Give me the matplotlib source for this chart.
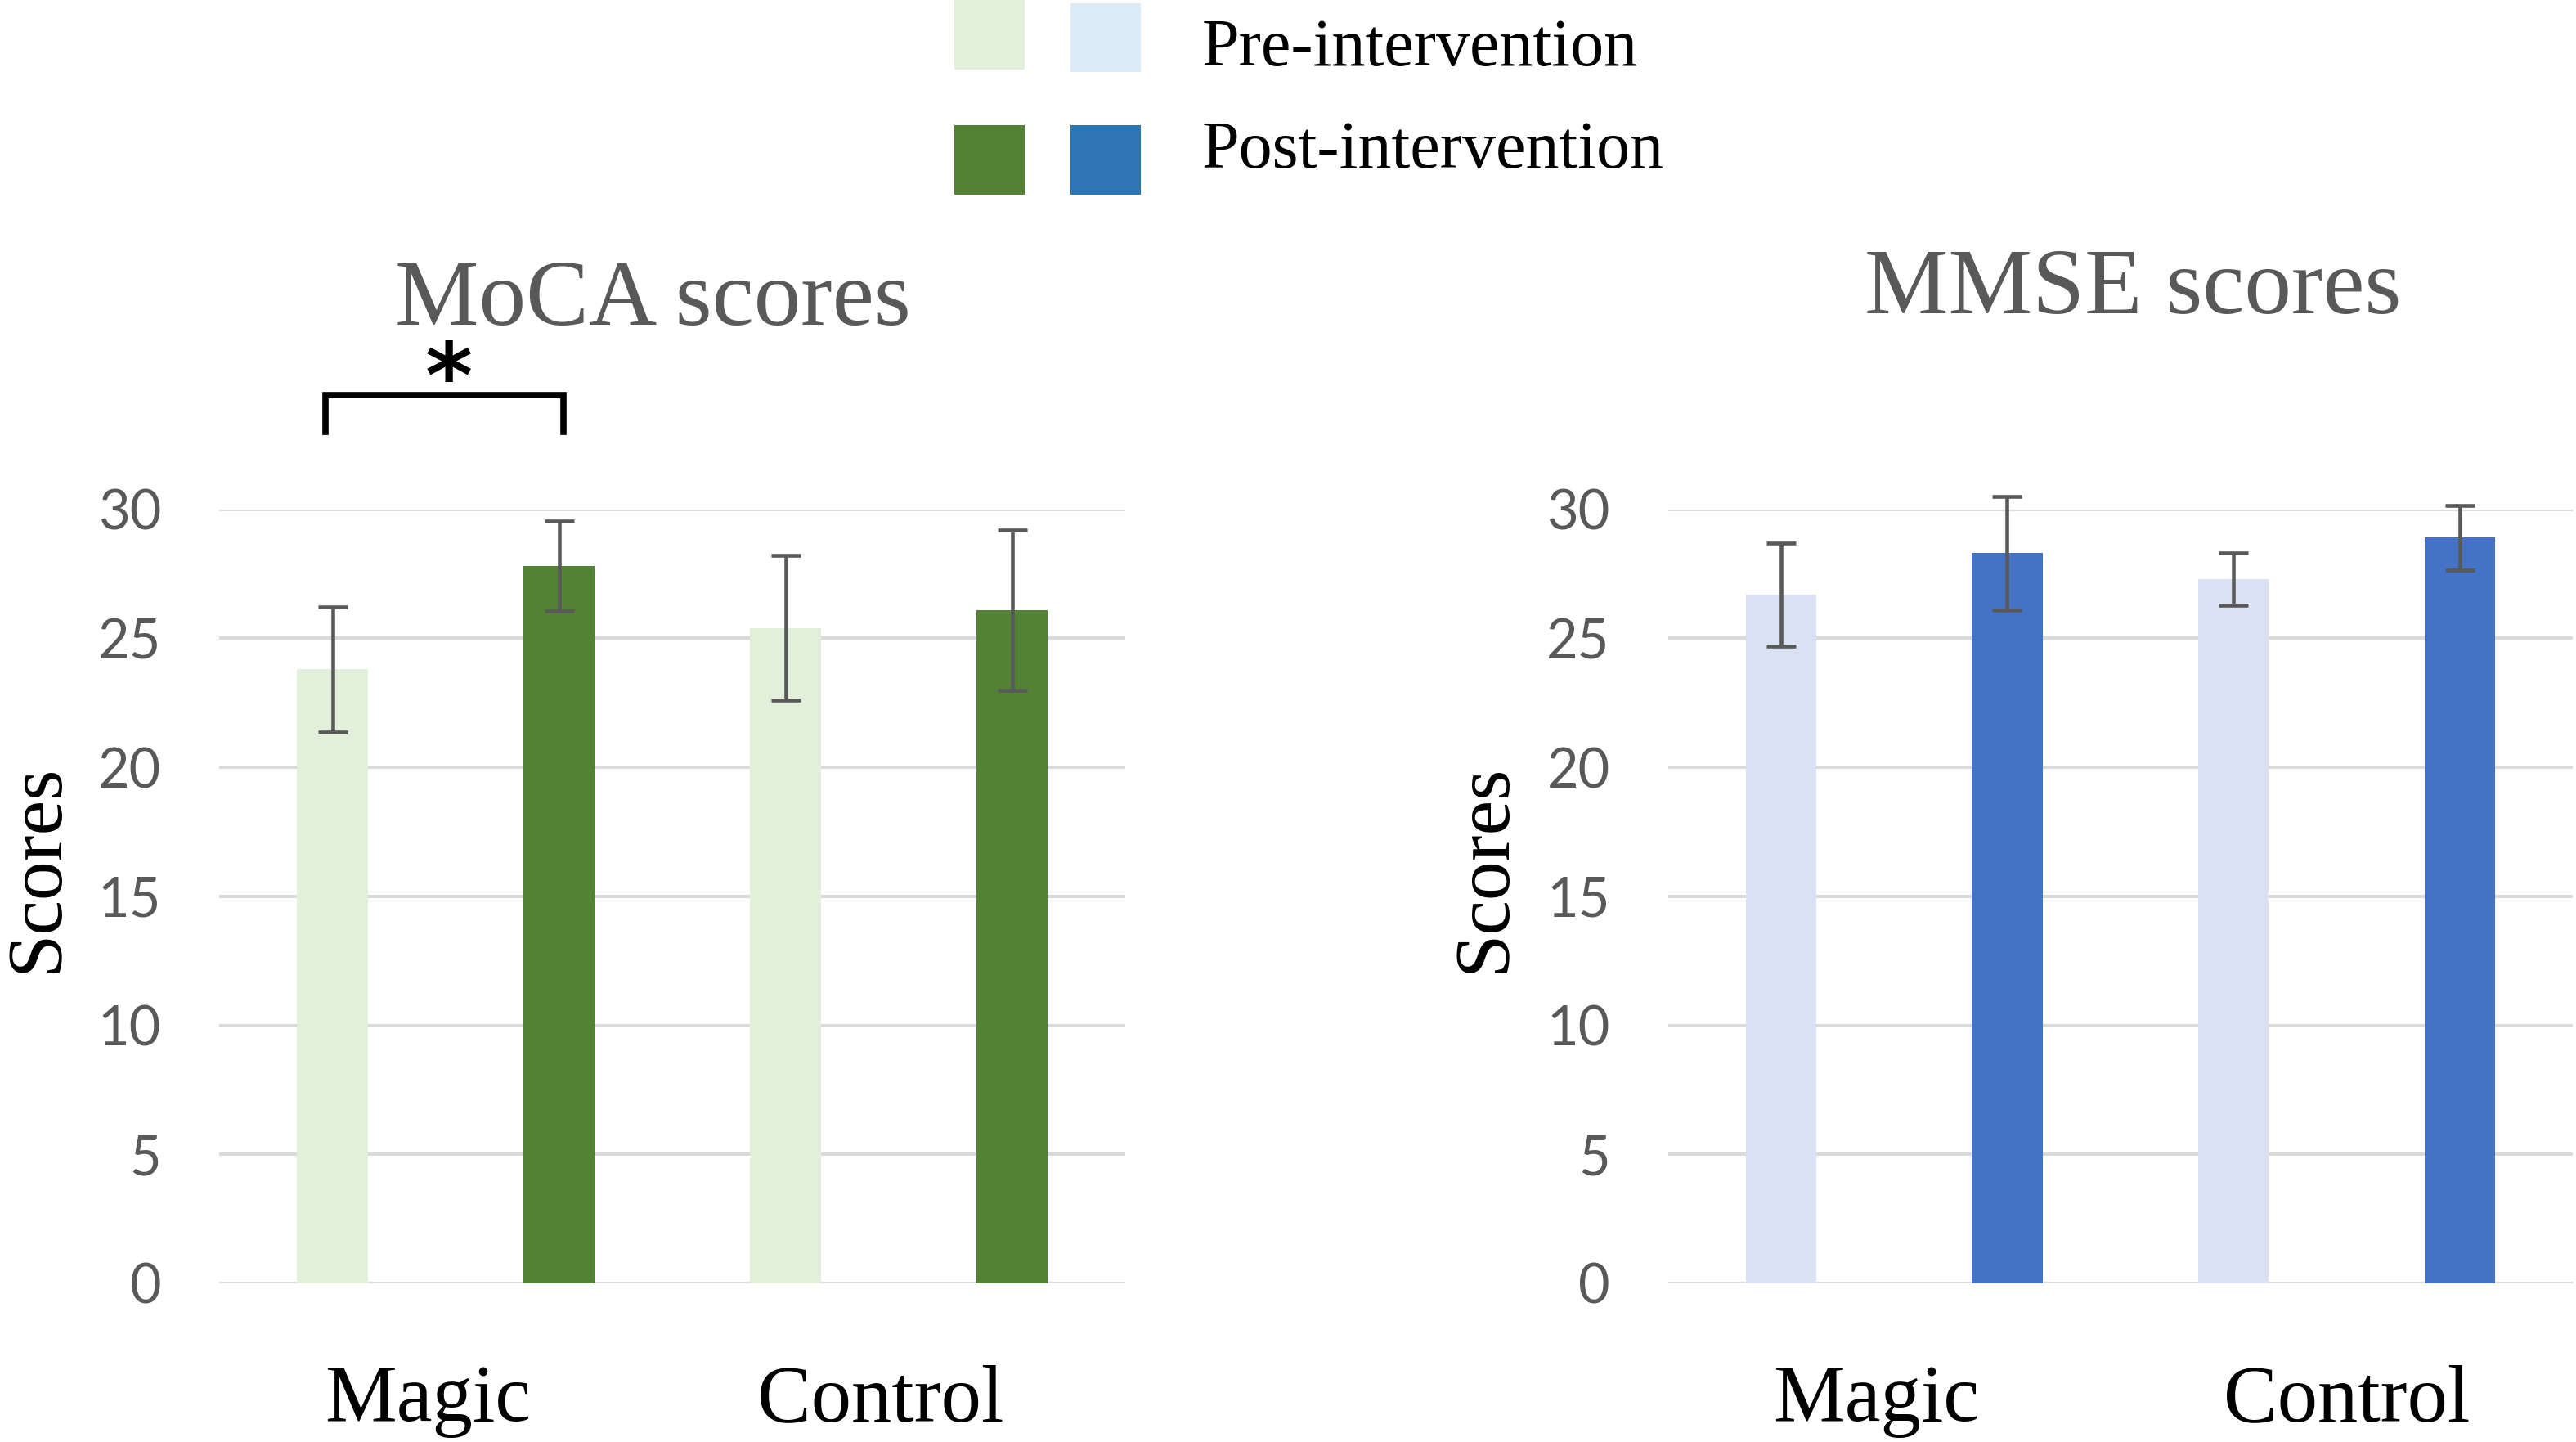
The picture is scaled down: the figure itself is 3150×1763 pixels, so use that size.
import numpy as np
import matplotlib.pyplot as plt
from matplotlib.patches import Rectangle
from matplotlib.transforms import blended_transform_factory

groups = ['Magic', 'Control']
moca_pre = [23.8, 25.4]
moca_post = [27.8, 26.1]
moca_pre_err = [2.43, 2.81]
moca_post_err = [1.75, 3.11]
mmse_pre = [26.7, 27.3]
mmse_post = [28.3, 28.9]
mmse_pre_err = [2.0, 1.02]
mmse_post_err = [2.2, 1.26]
y_ticks = [0, 5, 10, 15, 20, 25, 30]

W, H = 3150, 1763
DPI = 100
serif = 'Liberation Serif'
grey = '#595959'

fig = plt.figure(figsize=(W / DPI, H / DPI), dpi=DPI)


def fx(px):
    return px / W


def fy(py):
    return 1 - py / H


def panel(left_px, right_px, pre, post, pre_err, post_err, c_pre, c_post, label_shift):
    ax = fig.add_axes([fx(left_px), fy(1569), fx(right_px - left_px), (1569 - 622.7) / H])
    x = np.arange(len(groups))
    ax.bar(x - 0.25, pre, width=0.156, color=c_pre, zorder=2)
    ax.bar(x + 0.25, post, width=0.156, color=c_post, zorder=2)
    for xs, m, e in [(x - 0.25, pre, pre_err), (x + 0.25, post, post_err)]:
        eb = ax.errorbar(xs, m, yerr=e, fmt='none', ecolor=grey, elinewidth=3.3,
                         capsize=13, capthick=3.3, zorder=3)
        for art in eb.lines[1] + eb.lines[2]:
            art.set_clip_on(False)
    ax.set_xlim(-0.5, 1.5)
    ax.set_ylim(0, 30)
    ax.set_yticks(y_ticks)
    ax.set_xticks([])
    ax.yaxis.grid(True, color='#D9D9D9', linewidth=2.8, zorder=0)
    ax.set_axisbelow(True)
    for s in ax.spines.values():
        s.set_visible(False)
    ax.tick_params(axis='y', length=0, pad=51, labelsize=48, labelcolor=grey)
    for lab in ax.get_yticklabels():
        lab.set_fontfamily('Lato')
    tr = blended_transform_factory(ax.transData, ax.transAxes)
    for i, g in enumerate(groups):
        ax.text(i + label_shift[i], -0.178, g, transform=tr, ha='center', va='baseline',
                fontsize=71, family=serif, color='black')
    return ax


ax1 = panel(268, 1376, moca_pre, moca_post, moca_pre_err, moca_post_err,
            '#E2EFDA', '#548235', [-0.04, -0.04])
ax2 = panel(2039.5, 3146, mmse_pre, mmse_post, mmse_pre_err, mmse_post_err,
            '#D9E1F2', '#4472C4', [-0.04, 0.0])

# significance bracket on MoCA Magic
xl, xr = -0.265, 0.26
ax1.plot([xl, xl, xr, xr], [33.0, 34.43, 34.43, 33.0], color='black', linewidth=5.5,
         solid_joinstyle='miter', clip_on=False)
ax1.text(0.007, 33.95, '*', ha='center', va='baseline', fontsize=80, fontweight='bold',
         family='DejaVu Sans', color='black', clip_on=False)

# titles
fig.text(fx(798), fy(396.7), 'MoCA scores', ha='center', va='baseline', fontsize=83,
         family=serif, color=grey)
fig.text(fx(2608), fy(383), 'MMSE scores', ha='center', va='baseline', fontsize=83,
         family=serif, color=grey)

# y labels
for bx in [70, 1840]:
    fig.text(fx(bx), fy(1061), 'Scores', rotation=90, rotation_mode='anchor', ha='center',
             va='baseline', fontsize=69, family=serif, color='black')

# legend
for (x0, y0, x1, y1, c) in [(1167, 0, 1253, 85, '#E2EFDA'), (1309, 4, 1395, 88, '#DDEBF7'),
                            (1167, 153, 1253, 238, '#548235'), (1309, 153, 1395, 238, '#2E75B6')]:
    fig.add_artist(Rectangle((fx(x0), fy(y1)), fx(x1 - x0), (y1 - y0) / H,
                             transform=fig.transFigure, color=c, linewidth=0))
fig.text(fx(1470), fy(80), 'Pre-intervention', ha='left', va='baseline', fontsize=59,
         family=serif, color='black')
fig.text(fx(1470), fy(205), 'Post-intervention', ha='left', va='baseline', fontsize=59,
         family=serif, color='black')

fig.savefig('out.png', dpi=DPI, facecolor='white')
